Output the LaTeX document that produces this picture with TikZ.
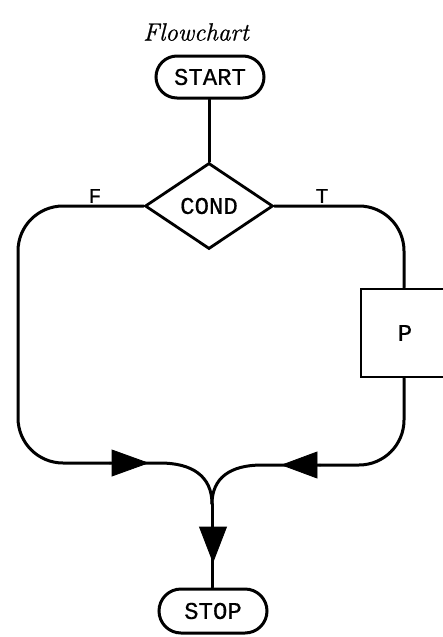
\documentclass[tikz,border=0pt]{standalone}
\usepackage{fontspec}
\newfontfamily\tw[FakeBold=0.6]{Liberation Mono}
\newfontfamily\ttl[FakeBold=0.7,ItalicFeatures={FakeBold=0.8}]{Latin Modern Roman}
\usetikzlibrary{shapes.geometric,shapes.misc}
\tikzset{
  flow/.style={line width=3pt, line join=round, line cap=round},
  term/.style={rounded rectangle, draw, line width=3pt, minimum width=108pt, minimum height=42pt, inner sep=0pt, font=\tw\fontsize{24}{26}\selectfont},
  decide/.style={diamond, draw, line width=2.8pt, minimum width=128pt, minimum height=86pt, inner sep=0pt, font=\tw\fontsize{24}{26}\selectfont},
  proc/.style={rectangle, draw, line width=2.8pt, minimum width=88pt, minimum height=88pt, inner sep=0pt, font=\tw\fontsize{24}{26}\selectfont},
  lbl/.style={font=\tw\fontsize{21}{23}\selectfont, inner sep=0pt},
  tri/.style={fill=black, draw=black, line width=0.8pt, line join=miter}
}
\begin{document}
\begin{tikzpicture}[x=1pt,y=-1pt]
\useasboundingbox (0,0) rectangle (443,637);
\node (title) at (196,32) {\ttl\itshape\fontsize{25}{27}\selectfont Flowchart};
\node[term] (start) at (210,77) {START};
\node[decide] (cond) at (209,206) {COND};
\node[proc] (p) at (405,333) {P};
\node[term, minimum height=44pt] (stop) at (213,611) {STOP};
\node[lbl] (f) at (95,196) {F};
\node[lbl] (t) at (322,196) {T};
\coordinate (m) at (212,504);
\draw[flow] (start.south -| cond.north) -- (cond.north);
\draw[flow, rounded corners=45pt] (cond.west) -- (18,206) -- (18,463) -- (110,463);
\draw[flow] (110,463) -- (160,463) .. controls (192,463) and (212,476) .. (m);
\draw[flow, rounded corners=45pt] (cond.east) -- (404,206) -- (p.north -| 404,0);
\draw[flow, rounded corners=45pt] (p.south -| 404,0) -- (404,465) -- (320,465);
\draw[flow] (320,465) -- (262,465) .. controls (230,465) and (212,478) .. (m);
\draw[flow] (m) -- (stop.north -| m);
\coordinate (la) at (148,463);
\coordinate (ra) at (282,465);
\coordinate (da) at (213,562);
\draw[tri] (la) -- ++(-36,-13) -- ++(0,26) -- cycle;
\draw[tri] (ra) -- ++(35,-13) -- ++(0,26) -- cycle;
\draw[tri] (da) -- ++(-13.5,-35) -- ++(27,0) -- cycle;
\end{tikzpicture}
\end{document}
